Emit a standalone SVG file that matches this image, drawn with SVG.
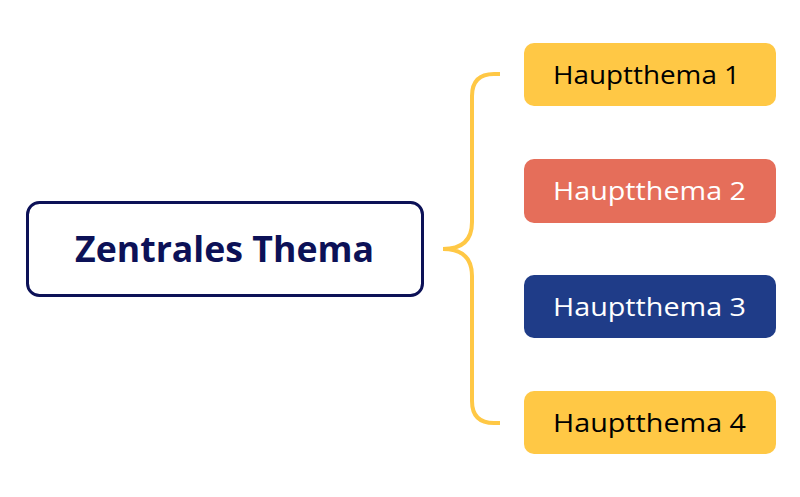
<svg xmlns="http://www.w3.org/2000/svg" width="800" height="497" viewBox="0 0 800 497">
<style>
.topic{font-family:"Open Sans","Noto Sans",sans-serif;font-size:26px;font-weight:500;text-anchor:middle}
.center{font-family:"Open Sans","Noto Sans",sans-serif;font-size:35px;font-weight:700;text-anchor:middle;fill:#0c1157}
.conn{fill:none;stroke:#ffc845;stroke-width:4;stroke-linecap:butt}
</style>
<rect width="800" height="497" fill="#ffffff"/>
<g id="connectors">
<path class="conn" d="M500,74 H494 Q472,74 472,96 V222 Q472,249 443,249 Q472,249 472,276 V401 Q472,423 494,423 H500"/>
</g>
<g id="central">
<rect x="27.5" y="202.5" width="395" height="93" rx="12" fill="#ffffff" stroke="#0c1157" stroke-width="3"/>
<text class="center" x="224.5" y="262" textLength="299" lengthAdjust="spacingAndGlyphs">Zentrales Thema</text>
</g>
<g id="topic1">
<rect x="524" y="43" width="252" height="63" rx="10" fill="#ffc845"/>
<text class="topic" x="646.5" y="84" fill="#000000" textLength="187" lengthAdjust="spacingAndGlyphs">Hauptthema 1</text>
</g>
<g id="topic2">
<rect x="524" y="159" width="252" height="64" rx="10" fill="#e56e5a"/>
<text class="topic" x="649.5" y="200" fill="#ffffff" textLength="193" lengthAdjust="spacingAndGlyphs">Hauptthema 2</text>
</g>
<g id="topic3">
<rect x="524" y="275" width="252" height="63" rx="10" fill="#1f3c88"/>
<text class="topic" x="649.5" y="316" fill="#ffffff" textLength="193" lengthAdjust="spacingAndGlyphs">Hauptthema 3</text>
</g>
<g id="topic4">
<rect x="524" y="391" width="252" height="63" rx="10" fill="#ffc845"/>
<text class="topic" x="649.5" y="432" fill="#000000" textLength="193" lengthAdjust="spacingAndGlyphs">Hauptthema 4</text>
</g>
</svg>
